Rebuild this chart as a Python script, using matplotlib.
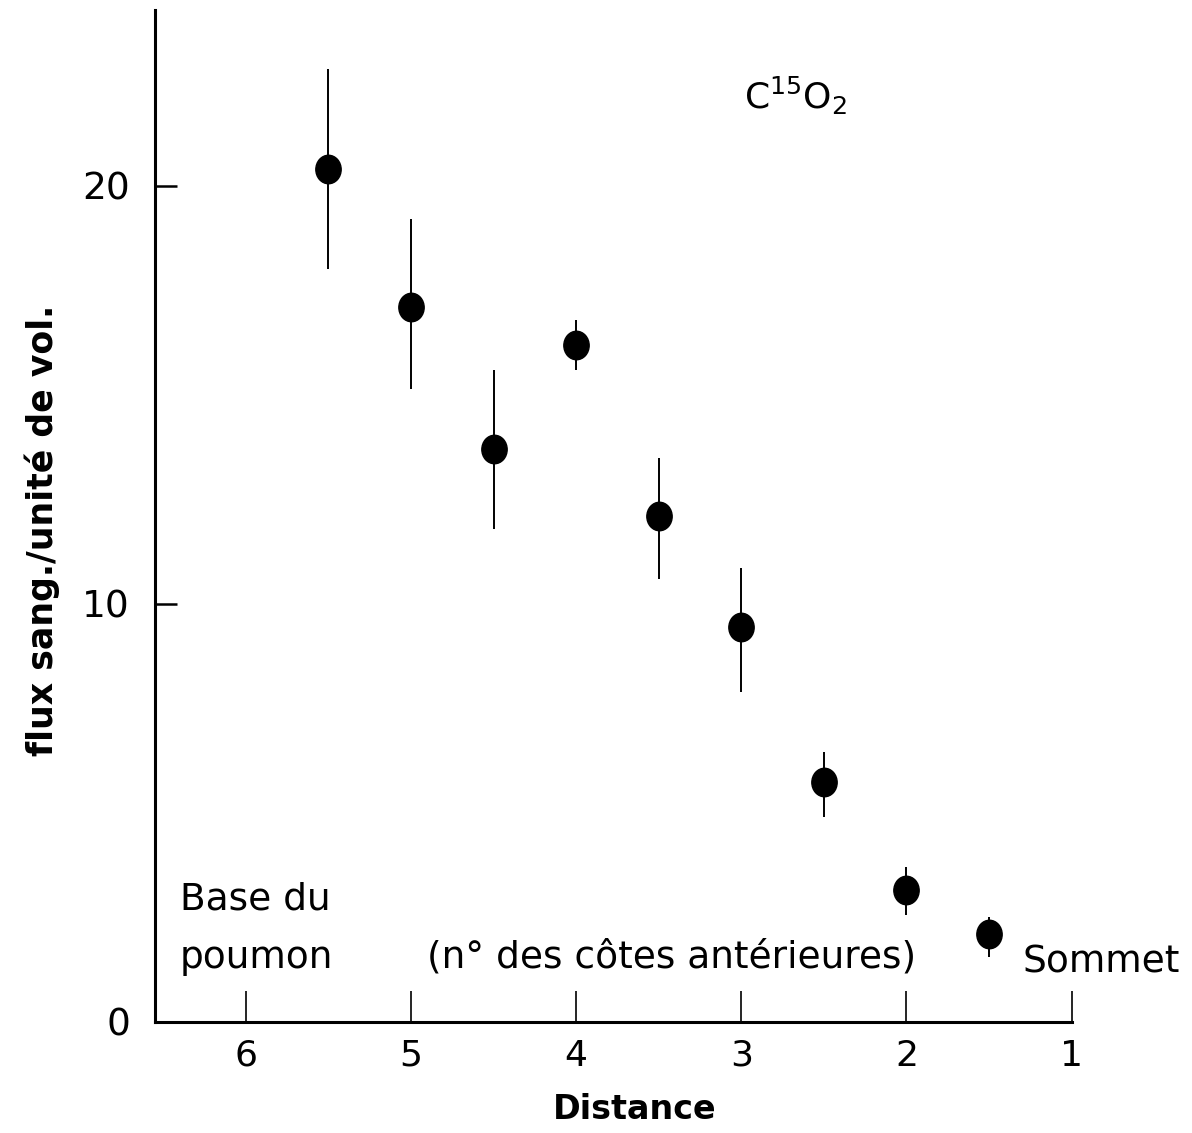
import numpy as np
import matplotlib.pyplot as plt
from matplotlib.markers import MarkerStyle
from matplotlib.transforms import Affine2D

# distance (n° des côtes antérieures) et flux sanguin par unité de volume
distance = [5.5, 5.0, 4.5, 4.0, 3.5, 3.0, 2.5, 2.0, 1.5]
flux = [20.4, 17.1, 13.7, 16.2, 12.1, 9.45, 5.75, 3.15, 2.1]
err_haut = [22.8, 19.2, 15.6, 16.8, 13.5, 10.85, 6.45, 3.7, 2.5]
err_bas = [18.0, 15.15, 11.8, 15.6, 10.6, 7.9, 4.9, 2.55, 1.55]

xticks = [6, 5, 4, 3, 2, 1]
yticks = [0, 10, 20]

flux = np.array(flux)
yerr = [flux - np.array(err_bas), np.array(err_haut) - flux]

fig = plt.figure(figsize=(11.92, 11.33), dpi=100)
ax = fig.add_axes([0.130, 0.098, 0.769, 0.893])

# points un peu ovales comme sur l'original
oval = MarkerStyle('o', transform=Affine2D().scale(0.96, 1.08))
ax.errorbar(distance, flux, yerr=yerr, fmt='none', ecolor='black',
            elinewidth=1.4, capsize=0)
ax.plot(distance, flux, linestyle='none', marker=oval, color='black',
        markersize=19)

ax.set_xlim(6.55, 1.0)
ax.set_ylim(0, 24.2)
ax.set_xticks(xticks)
ax.set_yticks(yticks)
ax.set_xticklabels([str(t) for t in xticks])
ax.set_yticklabels([str(t) for t in yticks])

for s in ['top', 'right']:
    ax.spines[s].set_visible(False)
ax.spines['left'].set_linewidth(2.2)
ax.spines['bottom'].set_linewidth(2.2)

ax.tick_params(axis='x', direction='in', length=22, width=1.2,
               labelsize=26, pad=12)
ax.tick_params(axis='y', direction='in', length=16, width=1.8,
               labelsize=27, pad=18)

ax.set_xlabel('Distance', fontsize=24, fontweight='bold', va='center')
ax.xaxis.set_label_coords(0.523, -0.087)
ax.set_ylabel('flux sang./unité de vol.', fontsize=25, fontweight='bold',
              va='center')
ax.yaxis.set_label_coords(-0.123, 0.486)

ax.text(6.40, 2.92, 'Base du', fontsize=27, ha='left', va='center')
ax.text(6.40, 1.53, 'poumon', fontsize=27, ha='left', va='center')
ax.text(3.42, 1.53, "(n° des côtes antérieures)", fontsize=27,
        ha='center', va='center')
ax.text(1.30, 1.43, 'Sommet', fontsize=27, ha='left', va='center')
ax.text(2.67, 22.15, r'C$^{15}$O$_2$', fontsize=26, ha='center', va='center')

fig.savefig('out.png', dpi=100)
